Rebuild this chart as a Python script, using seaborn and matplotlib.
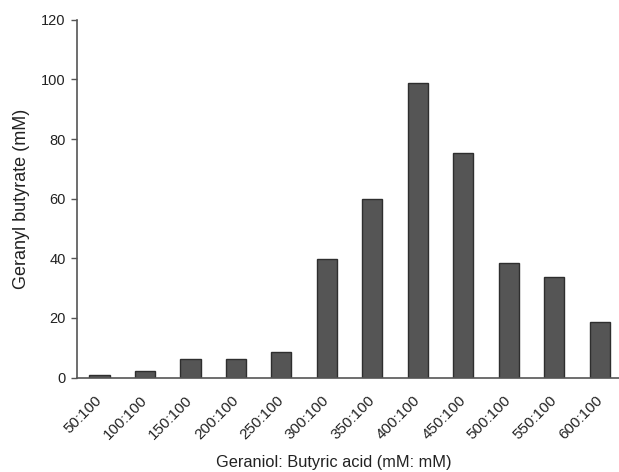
import matplotlib
matplotlib.use("Agg")
import matplotlib.pyplot as plt
import matplotlib.transforms as mtransforms
import seaborn as sns
import pandas as pd

categories = ["50:100", "100:100", "150:100", "200:100", "250:100", "300:100",
              "350:100", "400:100", "450:100", "500:100", "550:100", "600:100"]
values = [1.0, 2.3, 6.4, 6.4, 8.7, 39.7, 60.0, 98.8, 75.3, 38.6, 33.6, 18.8]

sns.set_style("white")
plt.rcParams['font.family'] = ['Liberation Sans', 'DejaVu Sans']

df = pd.DataFrame({"ratio": categories, "butyrate": values})

fig = plt.figure(figsize=(6.19, 4.72), dpi=100)
ax = fig.add_axes([0.124, 0.2, 0.882, 0.758])
sns.barplot(data=df, x="ratio", y="butyrate", color="#555555", width=0.44,
            edgecolor="#2e2e2e", linewidth=1.0, saturation=1, ax=ax)
ax.set_xlim(-0.5, 11.5)
ax.set_ylim(0, 120)
ax.set_yticks(range(0, 121, 20))
for s in ["top", "right"]:
    ax.spines[s].set_visible(False)
for s in ["left", "bottom"]:
    ax.spines[s].set_color("#555555")
    ax.spines[s].set_linewidth(1.2)
ax.tick_params(axis="y", which="both", left=True, length=4, width=1, color="#555555",
               labelsize=10.5, labelcolor="#222222", pad=4)
ax.tick_params(axis="x", bottom=False, labelsize=11, labelcolor="#222222", pad=8)
offset = mtransforms.ScaledTranslation(-5 / 100, 0, fig.dpi_scale_trans)
for lab in ax.get_xticklabels():
    lab.set_rotation(45)
    lab.set_ha("right")
    lab.set_rotation_mode("anchor")
    lab.set_transform(lab.get_transform() + offset)
ax.set_xlabel("Geraniol: Butyric acid (mM: mM)", fontsize=11.8, color="#222222")
ax.xaxis.set_label_coords(0.47, -0.215)
ax.set_ylabel("Geranyl butyrate (mM)", fontsize=13, color="#222222", labelpad=8)

fig.savefig("out.png", dpi=100)
